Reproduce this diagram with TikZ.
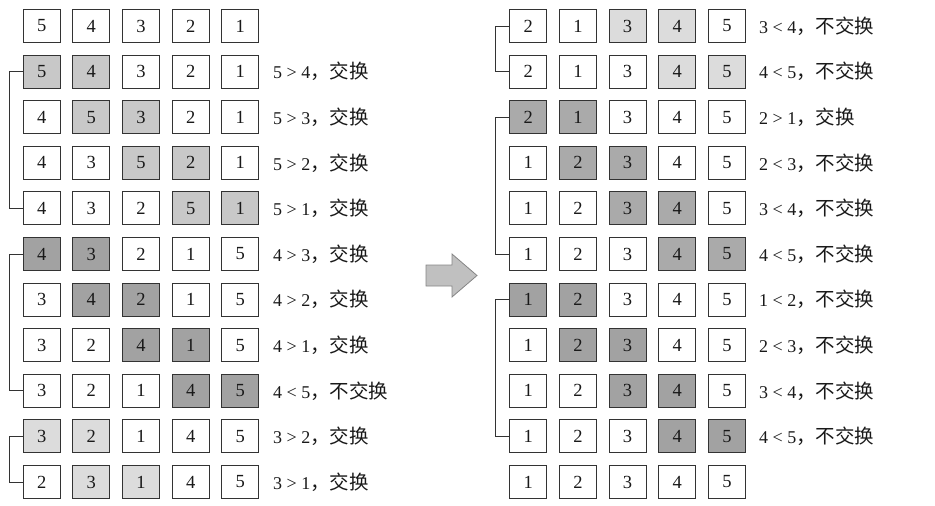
\documentclass[tikz,border=0pt]{standalone}
\usepackage{fontspec}
\setmainfont{Liberation Serif}
\newfontfamily\cjk{Noto Sans CJK SC}
\definecolor{edge}{HTML}{333333}
\definecolor{gA}{HTML}{C8C8C8}
\definecolor{gB}{HTML}{A2A2A2}
\definecolor{gC}{HTML}{DCDCDC}
\definecolor{gD}{HTML}{AAAAAA}
\definecolor{arrowfill}{HTML}{C0C0C0}
\definecolor{arrowedge}{HTML}{858585}
\tikzset{
  cell/.style={draw=edge, line width=1.1pt, minimum width=37pt, minimum height=33pt,
    inner sep=0pt, font=\fontsize{18.5}{18.5}\selectfont, text=black!90},
  lab/.style={anchor=west, inner sep=0pt, font=\fontsize{18}{18}\selectfont, text=black!90},
  brack/.style={draw=edge, line width=1pt},
}
% #1 prefix, #2 x of first centre, #3 y, #4 values, #5 first highlighted index (0 none), #6 colour, #7 label x, #8 label
\newcommand\boxrow[8]{%
  \foreach \v [count=\i] in {#4} {
    \ifnum\i=#5 \def\fc{#6}\else
      \pgfmathtruncatemacro\nx{#5+1}%
      \ifnum\i=\nx \def\fc{#6}\else\def\fc{white}\fi
    \fi
    \ifnum#5=0 \def\fc{white}\fi
    \node[cell, fill=\fc] (#1-\i) at ({#2+49.65*(\i-1)}, #3) {\v};
  }
  \node[lab] (#1-t) at (#7, #3) {#8};
}
\newcommand\cj[1]{{\cjk\fontsize{19.5}{19.5}\selectfont #1}}
\begin{document}
\begin{tikzpicture}[x=1pt, y=-1pt]
\useasboundingbox (0,0) rectangle (935,506);
\def\dy{45.6}
% left column
\boxrow{La}{41.7}{26}{5,4,3,2,1}{0}{white}{273}{}
\boxrow{Lb}{41.7}{26+\dy}{5,4,3,2,1}{1}{gA}{273}{5 > 4\cj{，交换}}
\boxrow{Lc}{41.7}{26+2*\dy}{4,5,3,2,1}{2}{gA}{273}{5 > 3\cj{，交换}}
\boxrow{Ld}{41.7}{26+3*\dy}{4,3,5,2,1}{3}{gA}{273}{5 > 2\cj{，交换}}
\boxrow{Le}{41.7}{26+4*\dy}{4,3,2,5,1}{4}{gA}{273}{5 > 1\cj{，交换}}
\boxrow{Lf}{41.7}{26+5*\dy}{4,3,2,1,5}{1}{gB}{273}{4 > 3\cj{，交换}}
\boxrow{Lg}{41.7}{26+6*\dy}{3,4,2,1,5}{2}{gB}{273}{4 > 2\cj{，交换}}
\boxrow{Lh}{41.7}{26+7*\dy}{3,2,4,1,5}{3}{gB}{273}{4 > 1\cj{，交换}}
\boxrow{Li}{41.7}{26+8*\dy}{3,2,1,4,5}{4}{gB}{273}{4 < 5\cj{，不交换}}
\boxrow{Lj}{41.7}{26+9*\dy}{3,2,1,4,5}{1}{gC}{273}{3 > 2\cj{，交换}}
\boxrow{Lk}{41.7}{26+10*\dy}{2,3,1,4,5}{2}{gC}{273}{3 > 1\cj{，交换}}
% right column
\boxrow{Ra}{528.3}{26}{2,1,3,4,5}{3}{gC}{759}{3 < 4\cj{，不交换}}
\boxrow{Rb}{528.3}{26+\dy}{2,1,3,4,5}{4}{gC}{759}{4 < 5\cj{，不交换}}
\boxrow{Rc}{528.3}{26+2*\dy}{2,1,3,4,5}{1}{gD}{759}{2 > 1\cj{，交换}}
\boxrow{Rd}{528.3}{26+3*\dy}{1,2,3,4,5}{2}{gD}{759}{2 < 3\cj{，不交换}}
\boxrow{Re}{528.3}{26+4*\dy}{1,2,3,4,5}{3}{gD}{759}{3 < 4\cj{，不交换}}
\boxrow{Rf}{528.3}{26+5*\dy}{1,2,3,4,5}{4}{gD}{759}{4 < 5\cj{，不交换}}
\boxrow{Rg}{528.3}{26+6*\dy}{1,2,3,4,5}{1}{gB}{759}{1 < 2\cj{，不交换}}
\boxrow{Rh}{528.3}{26+7*\dy}{1,2,3,4,5}{2}{gB}{759}{2 < 3\cj{，不交换}}
\boxrow{Ri}{528.3}{26+8*\dy}{1,2,3,4,5}{3}{gB}{759}{3 < 4\cj{，不交换}}
\boxrow{Rj}{528.3}{26+9*\dy}{1,2,3,4,5}{4}{gB}{759}{4 < 5\cj{，不交换}}
\boxrow{Rk}{528.3}{26+10*\dy}{1,2,3,4,5}{0}{white}{759}{}
% brackets
\draw[brack] (Lb-1.west) -- ++(-13.4,0) |- (Le-1.west);
\draw[brack] (Lf-1.west) -- ++(-13.4,0) |- (Li-1.west);
\draw[brack] (Lj-1.west) -- ++(-13.4,0) |- (Lk-1.west);
\draw[brack] (Ra-1.west) -- ++(-13.6,0) |- (Rb-1.west);
\draw[brack] (Rc-1.west) -- ++(-13.6,0) |- (Rf-1.west);
\draw[brack] (Rg-1.west) -- ++(-13.6,0) |- (Rj-1.west);
% block arrow
\draw[fill=arrowfill, draw=arrowedge, line width=0.8pt, line join=miter]
  (426,265) -- (452,265) -- (452,254) -- (477,275.5) -- (452,297) -- (452,286) -- (426,286) -- cycle;
\end{tikzpicture}
\end{document}
